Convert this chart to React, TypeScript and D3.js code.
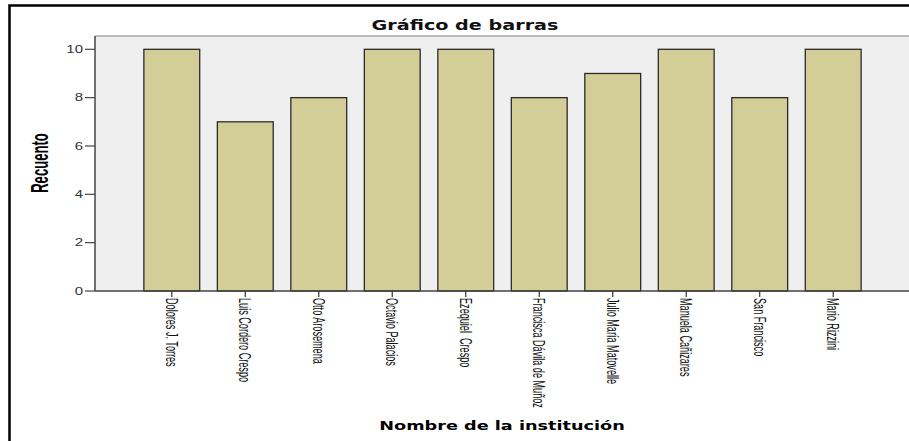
import { useEffect, useRef } from "react"
import * as d3 from "d3"

const institutions = [
  "Dolores J. Torres",
  "Luis Cordero Crespo",
  "Otto Arosemena",
  "Octavio Palacios",
  "Ezequiel  Crespo",
  "Francisca Dávila de Muñoz",
  "Julio María Matovelle",
  "Manuela Cañizares",
  "San Francisco",
  "Mario Rizzini",
]
const counts = [10, 7, 8, 10, 10, 8, 9, 10, 8, 10]
const yTicks = [0, 2, 4, 6, 8, 10]

export default function App() {
  const ref = useRef<SVGSVGElement>(null)

  useEffect(() => {
    const svg = d3.select(ref.current)
    svg.selectAll("*").remove()

    const left = 95, right = 910, top = 36, bottom = 291

    // outer frame (cut off at the right and bottom)
    svg.append("rect")
      .attr("x", 9.5).attr("y", 5.5)
      .attr("width", 960).attr("height", 500)
      .attr("fill", "#fff")
      .attr("stroke", "#000")
      .attr("stroke-width", 2.5)

    // plot background
    svg.append("rect")
      .attr("x", left).attr("y", top)
      .attr("width", right - left).attr("height", bottom - top)
      .attr("fill", "#efefef")
    svg.append("line")
      .attr("x1", left).attr("x2", right)
      .attr("y1", top).attr("y2", top)
      .attr("stroke", "#a8a8a8").attr("stroke-width", 1.5)

    const x = d3.scaleBand<string>()
      .domain(institutions)
      .range([left, right])
      .paddingInner(0.24)
      .paddingOuter(0.665)

    const y = d3.scaleLinear().domain([0, 10]).range([bottom, 49.3])

    // bars
    svg.append("g")
      .selectAll("rect")
      .data(counts)
      .join("rect")
      .attr("x", (_, i) => x(institutions[i])!)
      .attr("y", d => y(d))
      .attr("width", x.bandwidth())
      .attr("height", d => bottom - y(d))
      .attr("fill", "#d3cd97")
      .attr("stroke", "#2b2b2b")
      .attr("stroke-width", 1.3)

    // y axis
    const yAxis = svg.append("g")
    yAxis.append("line")
      .attr("x1", left).attr("x2", left)
      .attr("y1", top).attr("y2", bottom)
      .attr("stroke", "#444").attr("stroke-width", 1.5)
    const yt = yAxis.selectAll("g").data(yTicks).join("g")
      .attr("transform", d => `translate(0,${y(d)})`)
    yt.append("line")
      .attr("x1", left - 10).attr("x2", left)
      .attr("stroke", "#444").attr("stroke-width", 1.2)
    yt.append("text")
      .attr("transform", `translate(${left - 12},0) scale(1.5,1)`)
      .attr("text-anchor", "end")
      .attr("dy", "0.36em")
      .attr("font-family", "Liberation Sans, Arial, sans-serif")
      .attr("font-size", 10)
      .attr("fill", "#333")
      .text(d => d)

    // x axis
    const xAxis = svg.append("g")
    xAxis.append("line")
      .attr("x1", left).attr("x2", right)
      .attr("y1", bottom).attr("y2", bottom)
      .attr("stroke", "#444").attr("stroke-width", 1.5)
    const xt = xAxis.selectAll("g").data(institutions).join("g")
      .attr("transform", d => `translate(${x(d)! + x.bandwidth() / 2},${bottom})`)
    xt.append("line")
      .attr("y1", 0).attr("y2", 6)
      .attr("stroke", "#333").attr("stroke-width", 1.2)
    xt.append("text")
      .attr("transform", "translate(0,7) rotate(90) scale(0.76,1.4)")
      .attr("dy", "0.35em")
      .attr("font-family", "Liberation Sans, Arial, sans-serif")
      .attr("font-size", 12)
      .attr("fill", "#111")
      .attr("xml:space", "preserve")
      .style("white-space", "pre")
      .text(d => d)

    // title
    svg.append("text")
      .attr("transform", "translate(465,30) scale(1.37,1)")
      .attr("text-anchor", "middle")
      .attr("font-family", "DejaVu Sans, sans-serif")
      .attr("font-weight", "bold")
      .attr("font-size", 14)
      .attr("fill", "#111")
      .text("Gráfico de barras")

    // y title
    svg.append("text")
      .attr("transform", "translate(48,163) rotate(-90) scale(0.82,1.48)")
      .attr("text-anchor", "middle")
      .attr("font-family", "Liberation Sans, Arial, sans-serif")
      .attr("font-weight", "bold")
      .attr("font-size", 16)
      .attr("fill", "#000")
      .text("Recuento")

    // x title
    svg.append("text")
      .attr("transform", "translate(502,430) scale(1.36,1)")
      .attr("text-anchor", "middle")
      .attr("font-family", "DejaVu Sans, sans-serif")
      .attr("font-weight", "bold")
      .attr("font-size", 13)
      .attr("fill", "#000")
      .text("Nombre de la institución")
  }, [])

  return (
    <svg
      ref={ref}
      width={909}
      height={441}
      style={{ position: "absolute", left: 0, top: 0, background: "#fff" }}
    />
  )
}
